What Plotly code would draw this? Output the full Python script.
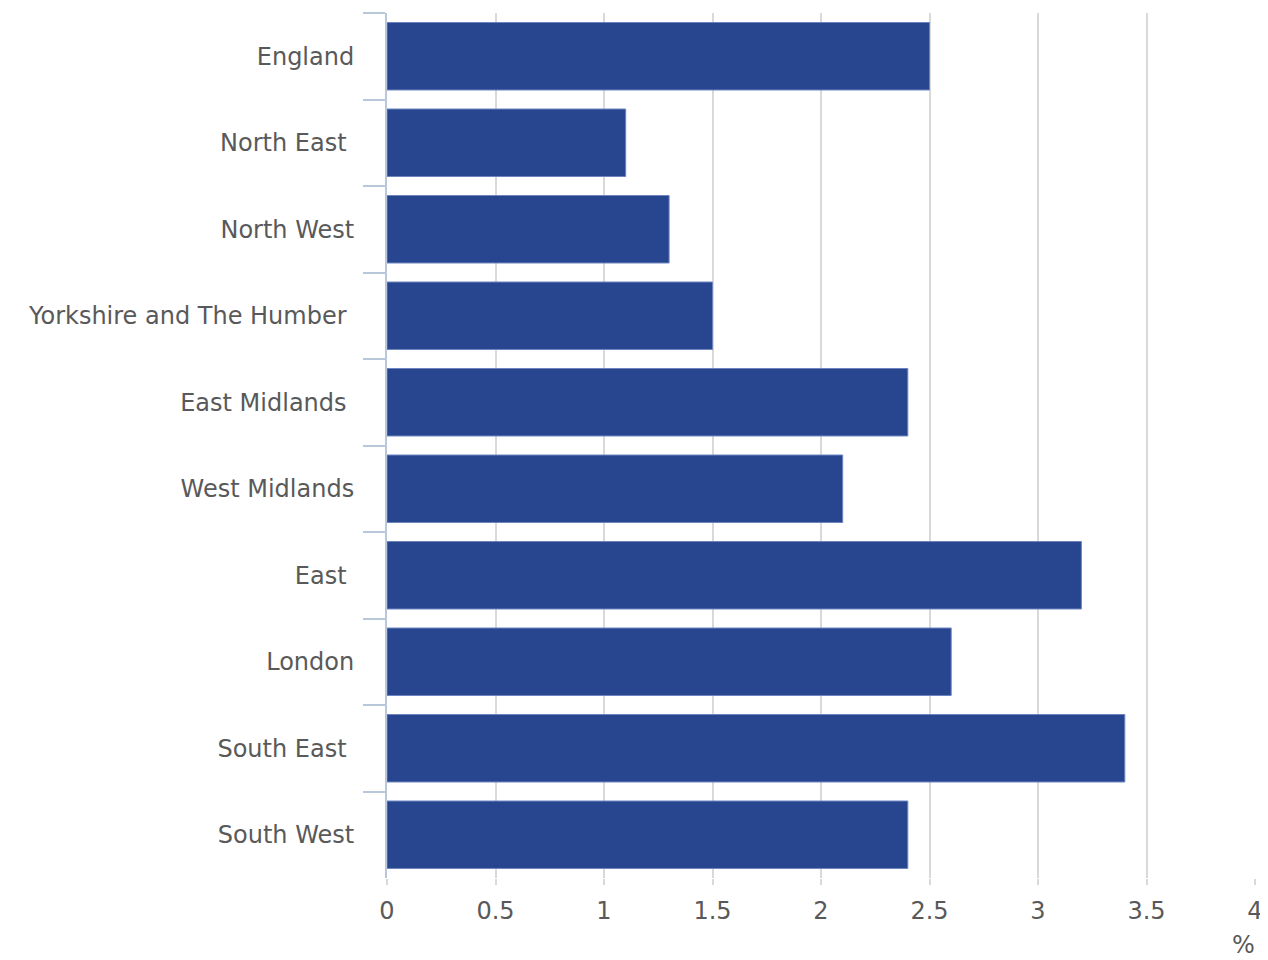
import plotly.graph_objects as go

regions = ["England", "North East\u00a0", "North West", "Yorkshire and The Humber\u00a0",
           "East Midlands\u00a0", "West Midlands", "East\u00a0", "London", "South East\u00a0", "South West"]
values = [2.5, 1.1, 1.3, 1.5, 2.4, 2.1, 3.2, 2.6, 3.4, 2.4]
x_ticks = [0, 0.5, 1, 1.5, 2, 2.5, 3, 3.5, 4]
x_tick_labels = ["0", "0.5", "1", "1.5", "2", "2.5", "3", "3.5", "4"]

font = "DejaVu Sans, Verdana, sans-serif"
fs = 24

fig = go.Figure(go.Bar(
    y=regions, x=values, orientation="h",
    marker=dict(color="#27468f", line=dict(color="#6d84c0", width=1)),
    hoverinfo="x+y",
))

fig.update_layout(
    width=1260, height=952,
    margin=dict(l=379, r=13, t=5, b=82, autoexpand=False),
    paper_bgcolor="white", plot_bgcolor="white",
    bargap=0.22,
    showlegend=False,
    font=dict(family=font, size=fs, color="#595959"),
    xaxis=dict(
        range=[0, 4], tickvals=x_ticks, ticktext=x_tick_labels,
        showgrid=True, gridcolor="#d9d9d9", gridwidth=2,
        zeroline=False, showline=False,
        ticks="outside", ticklen=6, tickcolor="#d9d9d9", tickwidth=2,
        tickfont=dict(size=fs, color="#595959"),
        ticklabelstandoff=5,
    ),
    yaxis=dict(
        autorange="reversed", automargin=False,
        showline=True, linecolor="#b8c7da", linewidth=2,
        ticks="outside", tickson="boundaries", ticklen=22, tickcolor="#b8c7da", tickwidth=2,
        showgrid=False,
        tickfont=dict(size=fs, color="#595959"),
        ticklabelstandoff=26,
    ),
    annotations=[dict(
        text="%", xref="paper", yref="paper", x=1.0, y=0, yshift=-67,
        xanchor="center", yanchor="middle", showarrow=False,
        font=dict(size=fs, color="#595959", family=font),
        xshift=-12,
    )],
)

fig.write_html("out.html")
